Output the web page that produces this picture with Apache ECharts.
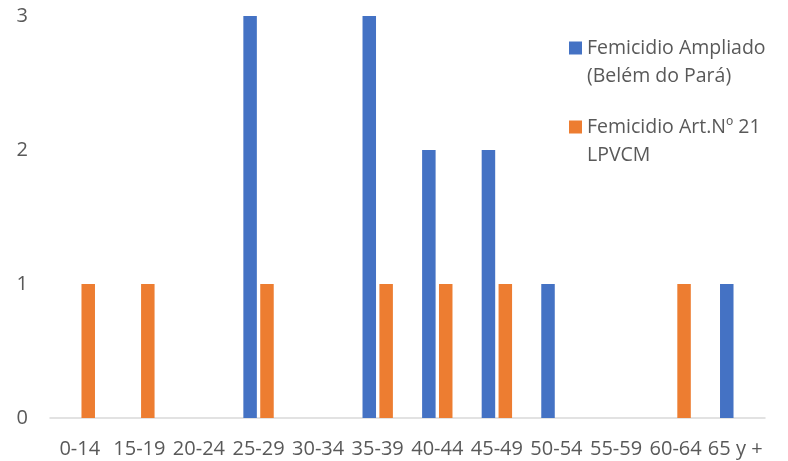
<!DOCTYPE html>
<html><head><meta charset="utf-8">
<script src="https://cdn.jsdelivr.net/npm/echarts@6/dist/echarts.min.js"></script>
<style>html,body{margin:0;padding:0;background:#fff}#c{width:788px;height:461px}</style>
</head><body><div id="c"></div>
<script>
const categories = ['0-14','15-19','20-24','25-29','30-34','35-39','40-44','45-49','50-54','55-59','60-64','65 y +'];
const ampliado = [0,0,0,3,0,3,2,2,1,0,0,1];
const art21 = [1,1,0,1,0,1,1,1,0,0,1,0];
const seriesNames = ['Femicidio Ampliado\n(Belém do Pará)','Femicidio Art.Nº 21\nLPVCM'];
const yTicks = [0,1,2,3];

const font = '"Open Sans", "DejaVu Sans", sans-serif';
const chart = echarts.init(document.getElementById('c'));
chart.setOption({
  animation: false,
  textStyle: {fontFamily: font},
  grid: {left: 50, right: 23, top: 16, bottom: 43, containLabel: false},
  legend: {
    orient: 'vertical', left: 564, top: 1, itemWidth: 13, itemHeight: 13, itemGap: -5,
    icon: 'rect',
    formatter: function (name) { return ' \n' + name; },
    textStyle: {fontFamily: font, fontSize: 19.5, color: '#595959', lineHeight: 28},
    data: seriesNames
  },
  xAxis: {
    type: 'category', data: categories,
    axisLine: {lineStyle: {color: '#D9D9D9', width: 1.5}},
    axisTick: {show: false},
    axisLabel: {color: '#595959', fontSize: 20, fontFamily: font, margin: 21, interval: 0}
  },
  yAxis: {
    type: 'value', min: yTicks[0], max: yTicks[yTicks.length-1], interval: 1,
    axisLine: {show: false}, axisTick: {show: false}, splitLine: {show: false},
    axisLabel: {color: '#595959', fontSize: 20, fontFamily: font, margin: 22}
  },
  series: [
    {name: seriesNames[0], type: 'bar', data: ampliado, itemStyle: {color: '#4472C4'}, barGap: '25%', barCategoryGap: '49%'},
    {name: seriesNames[1], type: 'bar', data: art21, itemStyle: {color: '#ED7D31'}, barGap: '25%', barCategoryGap: '49%'}
  ]
});
</script></body></html>
